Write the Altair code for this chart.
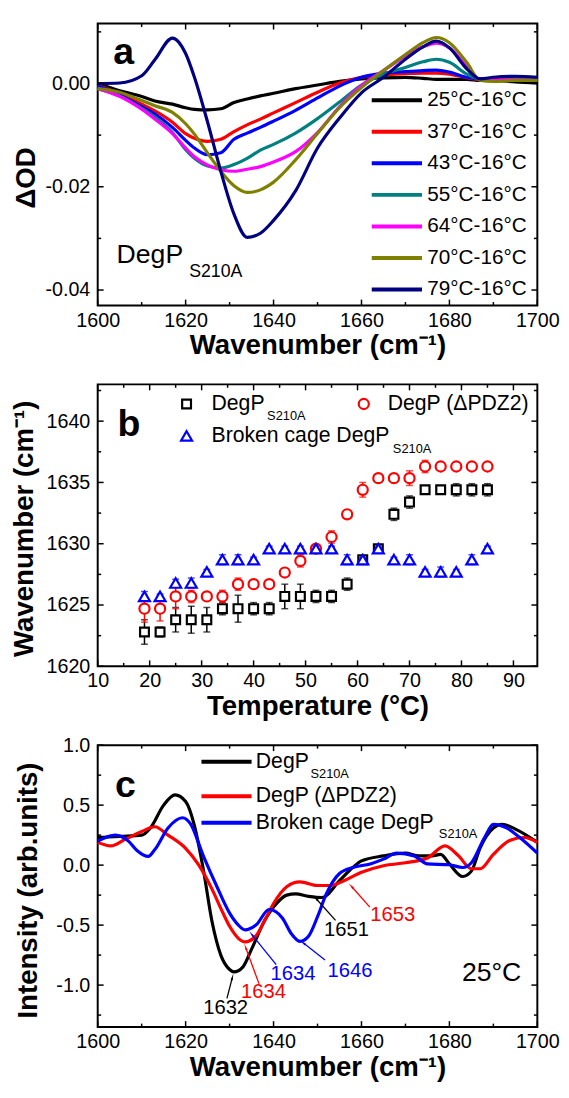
import math
import altair as alt
import pandas as pd

FONT = "Liberation Sans"
W = 446
H = 286

# ---------------- panel a data ----------------
a_wn = [1600, 1605, 1610, 1613, 1617, 1620, 1622, 1625, 1628, 1631, 1634, 1637, 1640, 1645,
        1650, 1655, 1660, 1665, 1670, 1674, 1677, 1680, 1684, 1687, 1690, 1695, 1700]
a_names = ["25°C-16°C", "37°C-16°C", "43°C-16°C", "55°C-16°C", "64°C-16°C", "70°C-16°C", "79°C-16°C"]
a_colors = ["#000000", "#ff0000", "#0000ff", "#008080", "#ff00ff", "#808000", "#000080"]
a_25 = [0.0, -0.0014, -0.0025, -0.0034, -0.0040, -0.0047, -0.0050, -0.0051, -0.0049, -0.0037, -0.0030,
        -0.0024, -0.0019, -0.0010, -0.0003, 0.0004, 0.0009, 0.0011, 0.0012, 0.0010, 0.0008, 0.0008,
        0.0008, 0.0006, 0.0006, 0.0003, 0.0001]
a_37 = [-0.0004, -0.0020, -0.0040, -0.0053, -0.0075, -0.0097, -0.0106, -0.0112, -0.0108, -0.0093, -0.0080,
        -0.0069, -0.0057, -0.0037, -0.0017, 0.0001, 0.0012, 0.0017, 0.0019, 0.0020, 0.0020, 0.0018,
        0.0011, 0.0008, 0.0008, 0.0007, 0.0006]
a_43 = [-0.0005, -0.0022, -0.0045, -0.0059, -0.0085, -0.0110, -0.0125, -0.0138, -0.0134, -0.0108, -0.0096,
        -0.0085, -0.0073, -0.0052, -0.0028, -0.0005, 0.0012, 0.0020, 0.0023, 0.0025, 0.0026, 0.0022,
        0.0012, 0.0009, 0.0009, 0.0009, 0.0009]
a_55 = [-0.0010, -0.0024, -0.0048, -0.0065, -0.0095, -0.0128, -0.0145, -0.0160, -0.0164, -0.0157, -0.0145,
        -0.0129, -0.0118, -0.0096, -0.0068, -0.0036, -0.0003, 0.0018, 0.0031, 0.0042, 0.0047, 0.0041,
        0.0018, 0.0009, 0.0009, 0.0008, 0.0006]
a_64 = [-0.0010, -0.0025, -0.0050, -0.0069, -0.0097, -0.0125, -0.0142, -0.0158, -0.0167, -0.0170, -0.0166,
        -0.0161, -0.0152, -0.0132, -0.0095, -0.0045, -0.0004, 0.0025, 0.0053, 0.0071, 0.0078, 0.0069,
        0.0032, 0.0008, 0.0008, 0.0007, 0.0006]
a_70 = [-0.0010, -0.0017, -0.0033, -0.0043, -0.0056, -0.0078, -0.0098, -0.0135, -0.0170, -0.0198, -0.0211,
        -0.0206, -0.0191, -0.0148, -0.0097, -0.0047, -0.0008, 0.0025, 0.0056, 0.0079, 0.0089, 0.0079,
        0.0040, 0.0006, 0.0004, 0.0006, 0.0006]
a_79 = [0.0, 0.0001, 0.0015, 0.0046, 0.0088, 0.0058, 0.0012, -0.0075, -0.0170, -0.0253, -0.0298,
        -0.0290, -0.0265, -0.0208, -0.0125, -0.0067, -0.0018, 0.0012, 0.0047, 0.0071, 0.0082, 0.0069,
        0.0028, 0.0009, 0.0012, 0.0014, 0.0012]
a_series = [a_25, a_37, a_43, a_55, a_64, a_70, a_79]

# ---------------- panel b data ----------------
b_temp = [19, 22, 25, 28, 31, 34, 37, 40, 43, 46, 49, 52, 55, 58, 61, 64, 67, 70, 73, 76, 79, 82, 85]
b_black = [1622.8, 1622.8, 1623.8, 1623.8, 1623.8, 1624.7, 1624.7, 1624.7, 1624.7, 1625.7, 1625.7, 1625.7,
           1625.7, 1626.7, 1628.7, 1629.6, 1632.4, 1633.4, 1634.4, 1634.4, 1634.4, 1634.4, 1634.4]
b_black_err = [1.0, 0.4, 1.0, 1.1, 1.0, 0.5, 1.1, 0.5, 0.5, 1.0, 1.0, 0.5, 0.5, 0.5, 0.3, 0.3, 0.5, 0.5,
               0.3, 0.3, 0.5, 0.5, 0.5]
b_red = [1624.7, 1624.7, 1625.7, 1625.7, 1625.7, 1625.7, 1626.7, 1626.7, 1626.7, 1627.65, 1628.6, 1629.6,
         1630.55, 1632.4, 1634.4, 1635.35, 1635.35, 1635.35, 1636.3, 1636.3, 1636.3, 1636.3, 1636.3]
b_red_err = [1.1, 1.0, 1.0, 0.5, 0.2, 0.5, 0.5, 0.2, 0.2, 0.2, 0.5, 0.3, 0.5, 0.2, 0.6, 0.3, 0.2, 0.6,
             0.5, 0.2, 0.2, 0.2, 0.2]
b_blue = [1625.7, 1625.7, 1626.8, 1626.8, 1627.7, 1628.7, 1628.7, 1628.7, 1629.6, 1629.6, 1629.6, 1629.6,
          1629.6, 1628.7, 1628.7, 1629.6, 1628.7, 1628.7, 1627.7, 1627.7, 1627.7, 1628.7, 1629.6]
b_blue_err = [0.4, 0.2, 0.3, 0.4, 0.2, 0.4, 0.4, 0.2, 0.2, 0.2, 0.2, 0.2, 0.2, 0.4, 0.2, 0.2, 0.2, 0.4,
              0.2, 0.4, 0.2, 0.4, 0.2]

# ---------------- panel c data ----------------
c_black_x = [1600, 1605, 1610, 1612, 1615, 1617.6, 1620, 1622, 1624, 1626, 1628, 1630, 1631, 1633, 1635,
             1638, 1640, 1643, 1645, 1648, 1651, 1655, 1658, 1660, 1665, 1670, 1673, 1676, 1678, 1680,
             1683, 1685, 1687, 1690, 1692, 1695, 1700]
c_black_y = [0.23, 0.24, 0.25, 0.31, 0.50, 0.585, 0.53, 0.33, -0.03, -0.47, -0.75, -0.87, -0.89, -0.85,
             -0.70, -0.46, -0.35, -0.25, -0.24, -0.26, -0.27, -0.13, -0.02, 0.035, 0.077, 0.10, 0.077,
             0.077, 0.09, 0.01, -0.095, -0.05, 0.145, 0.31, 0.34, 0.30, 0.19]
c_red_x = [1600, 1603, 1606, 1610, 1613, 1616, 1620, 1623, 1626, 1628, 1630, 1632, 1633.5, 1636, 1638,
           1640, 1643, 1646, 1650, 1653, 1656, 1660, 1665, 1670, 1675, 1679, 1682, 1685, 1687, 1690,
           1694, 1697, 1700]
c_red_y = [0.19, 0.16, 0.21, 0.28, 0.32, 0.25, 0.14, 0.0, -0.20, -0.36, -0.51, -0.61, -0.64, -0.59, -0.46,
           -0.32, -0.18, -0.14, -0.17, -0.17, -0.13, -0.06, -0.005, 0.02, 0.06, 0.16, 0.08, -0.03, -0.03,
           0.09, 0.21, 0.23, 0.19]
c_blue_x = [1600, 1604, 1607, 1609, 1611.5, 1613, 1616, 1619.3, 1621, 1624, 1627, 1630, 1632, 1633.5,
            1636, 1639, 1642, 1644, 1646, 1648, 1650, 1652, 1655, 1658, 1662, 1665, 1668, 1672, 1675,
            1680, 1683, 1685, 1688, 1690, 1693, 1696, 1700]
c_blue_y = [0.20, 0.25, 0.20, 0.12, 0.073, 0.13, 0.31, 0.395, 0.35, 0.08, -0.17, -0.40, -0.50, -0.54,
            -0.50, -0.37, -0.44, -0.57, -0.635, -0.59, -0.43, -0.24, -0.07, -0.02, 0.01, 0.05, 0.10,
            0.077, 0.01, 0.003, -0.02, 0.02, 0.23, 0.34, 0.31, 0.23, 0.10]

# peak annotations (label text, colour, label position, arrow tail, arrow head)
c_ann_text = ["1632", "1634", "1634", "1646", "1651", "1653"]
c_ann_color = ["#000000", "#ff0000", "#0000ff", "#0000ff", "#000000", "#ff0000"]
c_ann_x = [1629.1, 1637.7, 1644.4, 1657.4, 1656.6, 1667.1]
c_ann_y = [-1.19, -1.06, -0.91, -0.88, -0.545, -0.42]
c_tail_x = [1629.4, 1636.7, 1640.6, 1651.7, 1654.1, 1661.9]
c_tail_y = [-1.11, -0.99, -0.83, -0.79, -0.46, -0.35]
c_head_x = [1630.6, 1633.7, 1635.1, 1646.8, 1649.7, 1657.8]
c_head_y = [-0.94, -0.69, -0.58, -0.65, -0.28, -0.18]

# ---------------- scales ----------------
sx_a = alt.Scale(domain=[1600, 1700], nice=False, zero=False)
sy_a = alt.Scale(domain=[-0.043, 0.0116], nice=False, zero=False)
sx_b = alt.Scale(domain=[10, 94.6], nice=False, zero=False)
sy_b = alt.Scale(domain=[1620, 1643], nice=False, zero=False)
sx_c = alt.Scale(domain=[1600, 1700], nice=False, zero=False)
sy_c = alt.Scale(domain=[-1.35, 1.0], nice=False, zero=False)

MINUS = "replace(datum.label, '\u2212', '-')"


def xaxis(title, values, fmt):
    return alt.Axis(title=title, values=values, format=fmt, ticks=False, domain=False, grid=False,
                    labelFont=FONT, labelFontSize=20, labelColor="black", labelPadding=5,
                    labelFlush=False, labelOverlap=False,
                    titleFont=FONT, titleFontSize=28, titleFontWeight="bold", titleColor="black",
                    titlePadding=2)


def yaxis(title, values, fmt, tx, ty):
    return alt.Axis(title=title, values=values, format=fmt, ticks=False, domain=False, grid=False,
                    labelFont=FONT, labelFontSize=20, labelColor="black", labelPadding=8,
                    labelFlush=False, labelOverlap=False, labelExpr=MINUS,
                    titleFont=FONT, titleFontSize=28, titleFontWeight="bold", titleColor="black",
                    titleX=tx, titleY=ty, titleBaseline="middle")


AX_A = xaxis("Wavenumber (cm\u207b\u00b9)", [1600, 1620, 1640, 1660, 1680, 1700], "d")
AY_A = yaxis("\u0394OD", [0.0, -0.02, -0.04], ".2f", -72, 156)
AX_B = xaxis("Temperature (°C)", [10, 20, 30, 40, 50, 60, 70, 80, 90], "d")
AY_B = yaxis("Wavenumber (cm\u207b\u00b9)", [1620, 1625, 1630, 1635, 1640], "d", -74, 146)
AX_C = xaxis("Wavenumber (cm\u207b\u00b9)", [1600, 1620, 1640, 1660, 1680, 1700], "d")
AY_C = yaxis("Intensity (arb.units)", [1.0, 0.5, 0.0, -0.5, -1.0], ".1f", -70, 147)


def frame_ticks(sx, sy, ax, ay, xmaj, xmin, ymaj, ymin):
    layers = []
    for vals, L in ((xmaj, 6), (xmin, 3.5)):
        d = pd.DataFrame({"tx": vals})
        base = alt.Chart(d).mark_rule(color="black", strokeWidth=1.5)
        layers.append(base.encode(x=alt.X("tx:Q", scale=sx, axis=ax), y=alt.value(H), y2=alt.value(H - L)))
        layers.append(base.encode(x=alt.X("tx:Q", scale=sx, axis=ax), y=alt.value(0), y2=alt.value(L)))
    for vals, L in ((ymaj, 6), (ymin, 3.5)):
        d = pd.DataFrame({"ty": vals})
        base = alt.Chart(d).mark_rule(color="black", strokeWidth=1.5)
        layers.append(base.encode(y=alt.Y("ty:Q", scale=sy, axis=ay), x=alt.value(0), x2=alt.value(L)))
        layers.append(base.encode(y=alt.Y("ty:Q", scale=sy, axis=ay), x=alt.value(W), x2=alt.value(W - L)))
    return layers


def text_layer(xs, ys, texts, sx, sy, ax, ay, size, weight="normal", align="left", color="black"):
    d = pd.DataFrame({"x": xs, "y": ys, "t": texts})
    return alt.Chart(d).mark_text(font=FONT, fontSize=size, fontWeight=weight, align=align,
                                  baseline="middle", color=color).encode(
        x=alt.X("x:Q", scale=sx, axis=ax), y=alt.Y("y:Q", scale=sy, axis=ay), text="t:N")


# ================= panel a =================
rows = []
for name, vals in zip(a_names, a_series):
    for w, v in zip(a_wn, vals):
        rows.append({"wn": w, "od": v, "series": name})
df_a = pd.DataFrame(rows)

lines_a = alt.Chart(df_a).mark_line(strokeWidth=3.2, interpolate="monotone").encode(
    x=alt.X("wn:Q", scale=sx_a, axis=AX_A),
    y=alt.Y("od:Q", scale=sy_a, axis=AY_A),
    color=alt.Color("series:N", scale=alt.Scale(domain=a_names, range=a_colors),
                    legend=alt.Legend(orient="none", legendX=276, legendY=62, title=None,
                                      symbolType="stroke", symbolStrokeWidth=4, symbolSize=2601,
                                      labelFont=FONT, labelFontSize=21, labelColor="black",
                                      clipHeight=31.5, rowPadding=0, labelOffset=3.4, padding=0,
                                      labelLimit=300)),
    order=alt.Order("wn:Q"),
)

panel_a = alt.layer(
    lines_a,
    *frame_ticks(sx_a, sy_a, AX_A, AY_A, [1600, 1620, 1640, 1660, 1680, 1700], [1610, 1630, 1650, 1670, 1690],
                 [0.0, -0.02, -0.04], [0.01, -0.01, -0.03]),
    text_layer([1605.9], [0.0059], ["a"], sx_a, sy_a, AX_A, AY_A, 38, "bold", "center"),
    text_layer([1604.3], [-0.0333], ["DegP"], sx_a, sy_a, AX_A, AY_A, 27),
    text_layer([1620.8], [-0.0365], ["S210A"], sx_a, sy_a, AX_A, AY_A, 18),
).properties(width=W, height=H)


# ================= panel b =================
def err_layers(vals, errs, color):
    d = pd.DataFrame({"t": b_temp, "v": vals, "lo": [v - e for v, e in zip(vals, errs)],
                      "hi": [v + e for v, e in zip(vals, errs)]})
    base = alt.Chart(d)
    rule = base.mark_rule(color=color, strokeWidth=1.5).encode(
        x=alt.X("t:Q", scale=sx_b, axis=AX_B), y=alt.Y("lo:Q", scale=sy_b, axis=AY_B), y2="hi:Q")
    cap_lo = base.mark_tick(color=color, orient="horizontal", size=7, thickness=1.5).encode(
        x=alt.X("t:Q", scale=sx_b, axis=AX_B), y=alt.Y("lo:Q", scale=sy_b, axis=AY_B))
    cap_hi = base.mark_tick(color=color, orient="horizontal", size=7, thickness=1.5).encode(
        x=alt.X("t:Q", scale=sx_b, axis=AX_B), y=alt.Y("hi:Q", scale=sy_b, axis=AY_B))
    return [rule, cap_lo, cap_hi]


def pts_layer(xs, ys, color, shape, size):
    d = pd.DataFrame({"t": xs, "v": ys})
    return alt.Chart(d).mark_point(shape=shape, size=size, filled=True, fill="white", fillOpacity=1,
                                   stroke=color, strokeWidth=2.2, opacity=1).encode(
        x=alt.X("t:Q", scale=sx_b, axis=AX_B), y=alt.Y("v:Q", scale=sy_b, axis=AY_B))


SQ, CI, TR = 80, 105, 125

panel_b = alt.layer(
    *err_layers(b_black, b_black_err, "#000000"),
    pts_layer(b_temp, b_black, "#000000", "square", SQ),
    *err_layers(b_red, b_red_err, "#ff0000"),
    pts_layer(b_temp, b_red, "#ff0000", "circle", CI),
    *err_layers(b_blue, b_blue_err, "#0000ff"),
    pts_layer(b_temp, b_blue, "#0000ff", "triangle-up", TR),
    *frame_ticks(sx_b, sy_b, AX_B, AY_B, [10, 20, 30, 40, 50, 60, 70, 80, 90], [15, 25, 35, 45, 55, 65, 75, 85],
                 [1620, 1625, 1630, 1635, 1640], [1622.5, 1627.5, 1632.5, 1637.5, 1642.5]),
    # legend
    pts_layer([27.1], [1641.4], "#000000", "square", SQ),
    pts_layer([61.2], [1641.4], "#ff0000", "circle", CI),
    pts_layer([27.1], [1638.8], "#0000ff", "triangle-up", TR),
    text_layer([31.9, 65.8, 31.9], [1641.4, 1641.4, 1638.8],
               ["DegP", "DegP (\u0394PDZ2)", "Broken cage DegP"], sx_b, sy_b, AX_B, AY_B, 21.5),
    text_layer([42.6, 66.8], [1640.45, 1637.7], ["S210A", "S210A"], sx_b, sy_b, AX_B, AY_B, 13),
    text_layer([16.0], [1639.65], ["b"], sx_b, sy_b, AX_B, AY_B, 38, "bold", "center"),
).properties(width=W, height=H)

# ================= panel c =================
c_rows = []
for name, xs, ys in (("black", c_black_x, c_black_y), ("red", c_red_x, c_red_y), ("blue", c_blue_x, c_blue_y)):
    for x, y in zip(xs, ys):
        c_rows.append({"wn": x, "inten": y, "series": name})
df_c = pd.DataFrame(c_rows)

lines_c = alt.Chart(df_c).mark_line(strokeWidth=3.2, interpolate="monotone").encode(
    x=alt.X("wn:Q", scale=sx_c, axis=AX_C),
    y=alt.Y("inten:Q", scale=sy_c, axis=AY_C),
    color=alt.Color("series:N", scale=alt.Scale(domain=["red", "blue", "black"],
                                                range=["#ff0000", "#0000ff", "#000000"]), legend=None),
    order=alt.Order("wn:Q"),
)

px_x = W / 100.0
px_y = H / 2.35
angles = []
for tx, ty, hx, hy in zip(c_tail_x, c_tail_y, c_head_x, c_head_y):
    dx = (hx - tx) * px_x
    dy = -(hy - ty) * px_y
    angles.append(math.degrees(math.atan2(dx, -dy)) % 360)

df_arrow = pd.DataFrame({"tx": c_tail_x, "ty": c_tail_y, "hx": c_head_x, "hy": c_head_y,
                         "col": c_ann_color, "ang": angles})
arrow_rules = alt.Chart(df_arrow).mark_rule(strokeWidth=1.3).encode(
    x=alt.X("tx:Q", scale=sx_c, axis=AX_C), x2="hx:Q", y=alt.Y("ty:Q", scale=sy_c, axis=AY_C), y2="hy:Q",
    color=alt.Color("col:N", scale=None))
arrow_heads = alt.Chart(df_arrow).mark_point(shape="wedge", filled=True, size=70, opacity=1).encode(
    x=alt.X("hx:Q", scale=sx_c, axis=AX_C), y=alt.Y("hy:Q", scale=sy_c, axis=AY_C),
    color=alt.Color("col:N", scale=None), angle=alt.Angle("ang:Q", scale=None))

df_ann = pd.DataFrame({"x": c_ann_x, "y": c_ann_y, "t": c_ann_text, "col": c_ann_color})
ann_text = alt.Chart(df_ann).mark_text(font=FONT, fontSize=20.5, align="center", baseline="middle").encode(
    x=alt.X("x:Q", scale=sx_c, axis=AX_C), y=alt.Y("y:Q", scale=sy_c, axis=AY_C), text="t:N",
    color=alt.Color("col:N", scale=None))

# legend of panel c
c_leg_x1 = [1623.6, 1623.6, 1623.6]
c_leg_x2 = [1635.0, 1635.0, 1635.0]
c_leg_y = [0.861, 0.574, 0.353]
c_leg_col = ["#000000", "#ff0000", "#0000ff"]
c_leg_text = ["DegP", "DegP (\u0394PDZ2)", "Broken cage DegP"]
df_leg_c = pd.DataFrame({"x1": c_leg_x1, "x2": c_leg_x2, "y": c_leg_y, "col": c_leg_col})
leg_c = alt.Chart(df_leg_c).mark_rule(strokeWidth=4).encode(
    x=alt.X("x1:Q", scale=sx_c, axis=AX_C), x2="x2:Q", y=alt.Y("y:Q", scale=sy_c, axis=AY_C),
    color=alt.Color("col:N", scale=None))

panel_c = alt.layer(
    lines_c,
    arrow_rules,
    arrow_heads,
    ann_text,
    leg_c,
    *frame_ticks(sx_c, sy_c, AX_C, AY_C, [1600, 1620, 1640, 1660, 1680, 1700], [1610, 1630, 1650, 1670, 1690],
                 [1.0, 0.5, 0.0, -0.5, -1.0], [0.75, 0.25, -0.25, -0.75, -1.25]),
    text_layer([1635.96] * 3, c_leg_y, c_leg_text, sx_c, sy_c, AX_C, AY_C, 21.5),
    text_layer([1648.4, 1677.6], [0.763, 0.263], ["S210A", "S210A"], sx_c, sy_c, AX_C, AY_C, 13),
    text_layer([1606.3], [0.656], ["c"], sx_c, sy_c, AX_C, AY_C, 38, "bold", "center"),
    text_layer([1689.6], [-0.90], ["25°C"], sx_c, sy_c, AX_C, AY_C, 27, "normal", "center"),
).properties(width=W, height=H)

chart = alt.vconcat(panel_a, panel_b, panel_c, spacing=80, bounds="flush").resolve_scale(
    color="independent"
).properties(
    padding={"left": 2, "top": 6, "right": 0, "bottom": 0}
).configure_view(stroke="black", strokeWidth=2)

chart.save("out.html", embed_options={"renderer": "svg", "actions": False})
